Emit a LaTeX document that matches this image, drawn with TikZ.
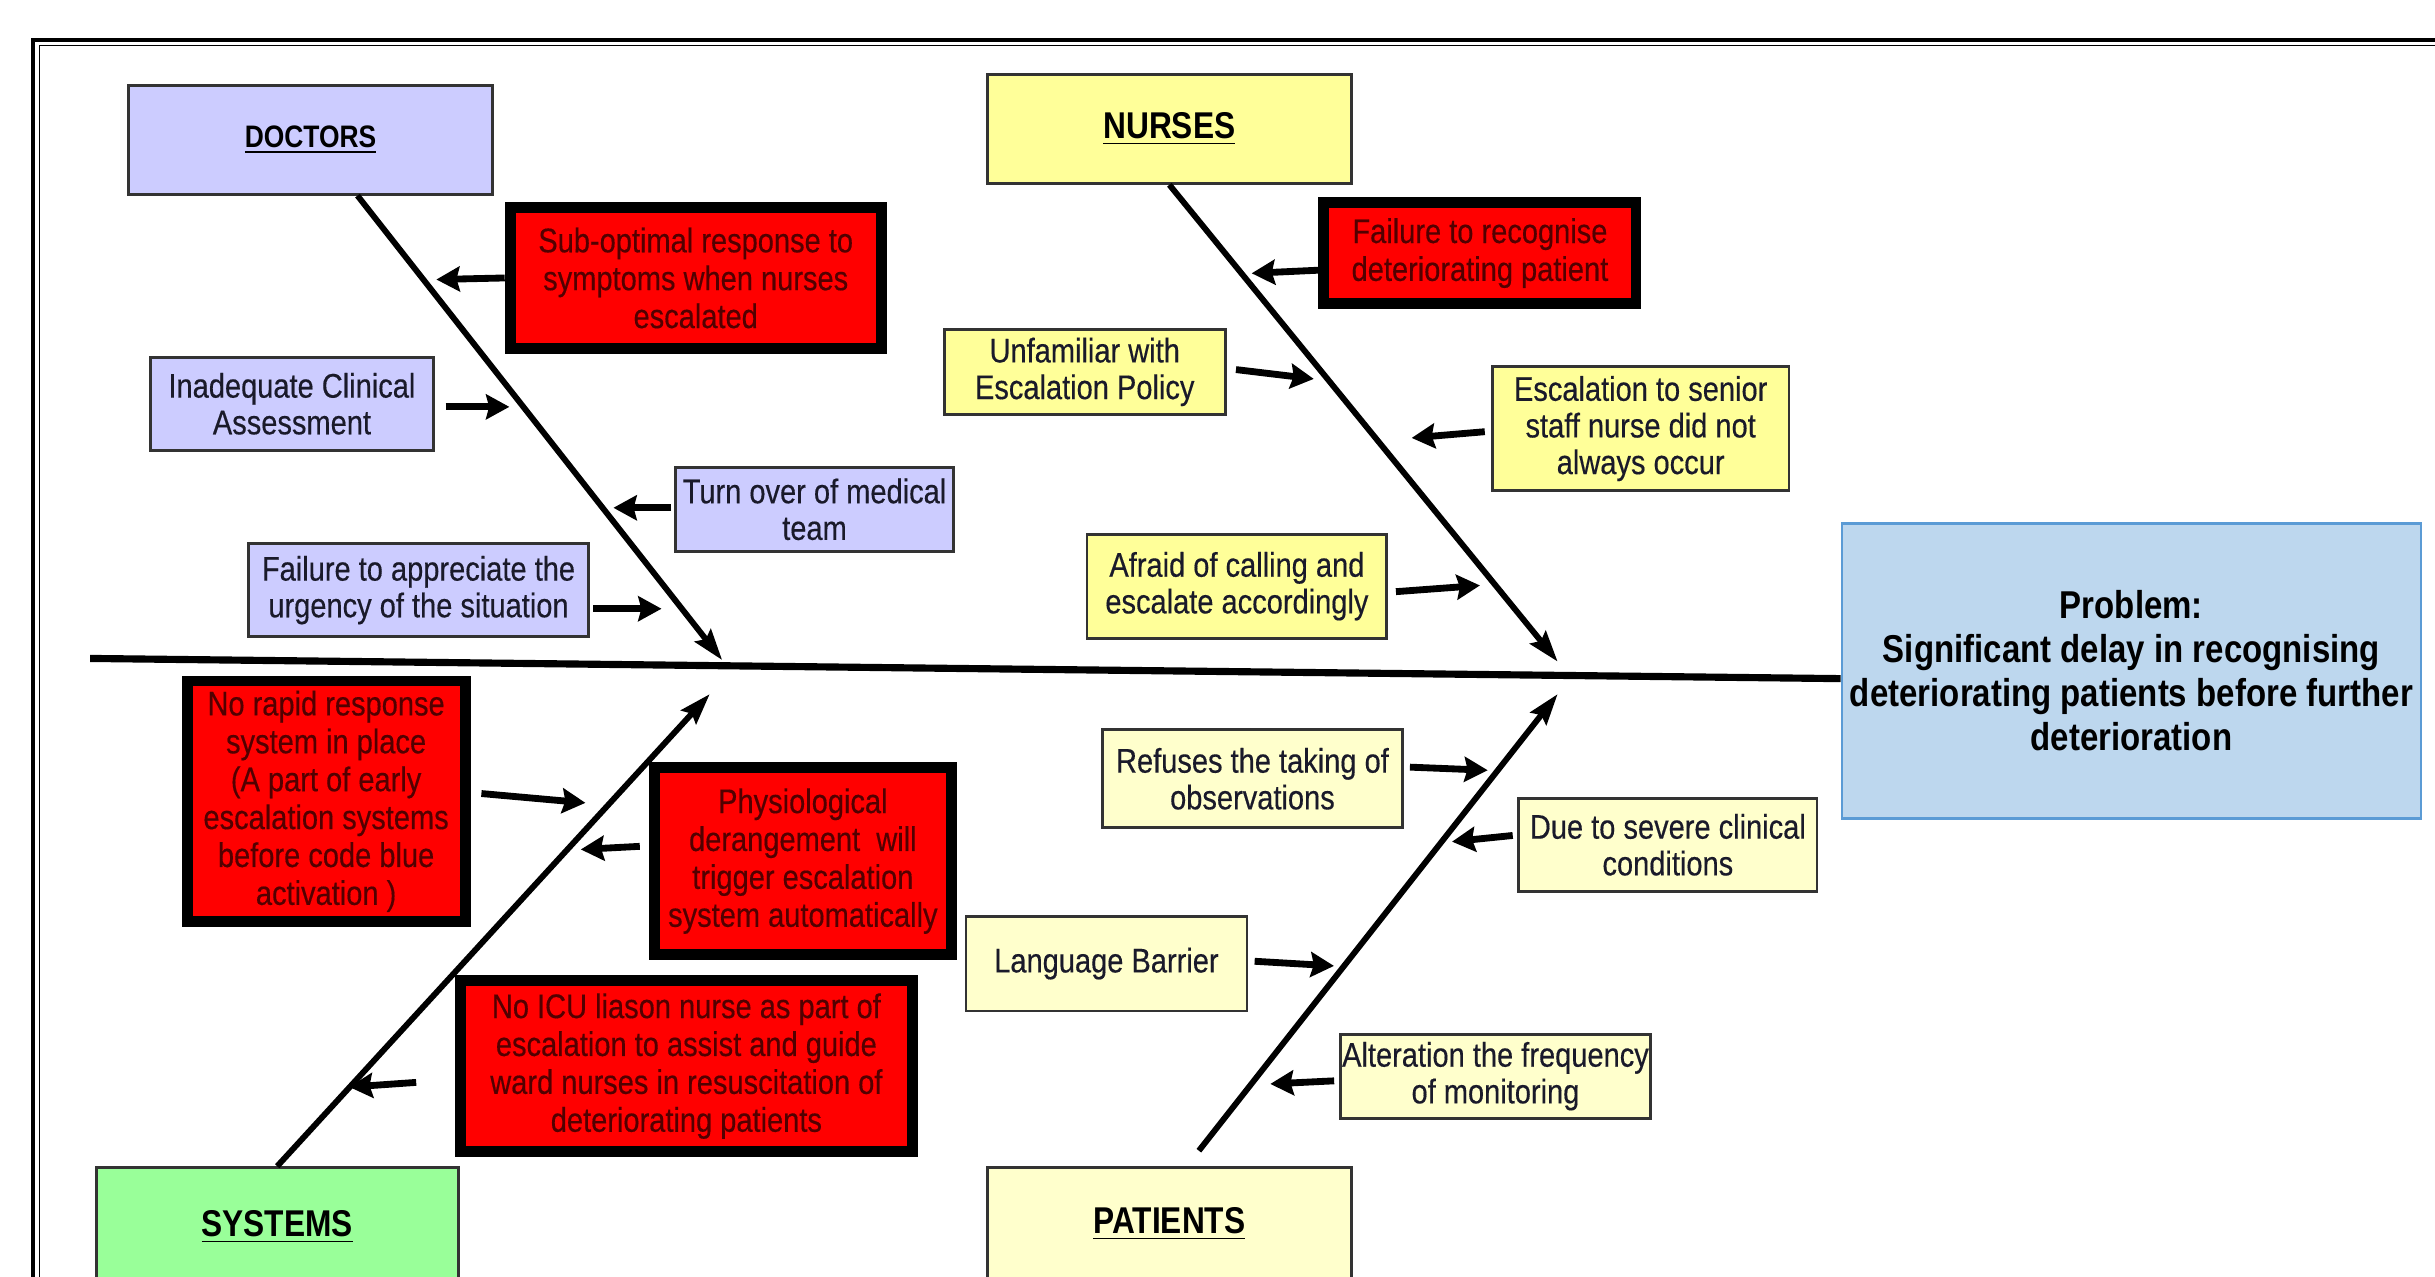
\documentclass[tikz,border=0pt]{standalone}
\usepackage{fontspec}
\setmainfont{Liberation Sans}[FakeStretch=0.85, UprightFeatures={FakeBold=0.35}]
\usetikzlibrary{fit,calc,arrows.meta}
\definecolor{lav}{HTML}{CCCCFF}
\definecolor{yel}{HTML}{FFFF99}
\definecolor{pale}{HTML}{FFFFCC}
\definecolor{grn}{HTML}{99FF99}
\definecolor{sky}{HTML}{BDD7EE}
\definecolor{skyline}{HTML}{5B9BD5}
\definecolor{darkmaroon}{HTML}{520000}
\definecolor{boxline}{HTML}{333333}
\definecolor{txtgray}{HTML}{1A1A2A}
% box drawn by fit, text set in its own node at the box centre
% #1 style, #2 fill, #3 name, #4 #5 corners, #6 text
\newcommand\tbox[6]{%
  \node[#1, fill=#2, fit={#4 #5}] (#3) {};
  \node[#1txt] (#3txt) at (#3.center) {#6};}
\begin{document}
\begin{tikzpicture}[x=0.5pt,y=-0.5pt,
 lbox/.style={draw=boxline, line width=0.9pt, inner sep=0pt},
 lboxtxt/.style={inner sep=0pt, align=center, font=\fontsize{11}{11.8}\selectfont, text=txtgray},
 rbox/.style={draw=black, line width=3.5pt, inner sep=0pt},
 rboxtxt/.style={inner sep=0pt, align=center, font=\fontsize{11}{12.2}\selectfont, text=darkmaroon},
 headbox/.style={draw=boxline, line width=1pt, inner sep=0pt},
 headboxtxt/.style={inner sep=0pt, align=center, font=\bfseries\fontsize{12}{14}\selectfont},
 probbox/.style={draw=skyline, line width=0.8pt, inner sep=0pt},
 probboxtxt/.style={inner sep=0pt, align=center, font=\bfseries\fontsize{12.5}{14.2}\selectfont},
 bone/.style={line width=1.9pt, -{Stealth[length=10pt,width=6.5pt,inset=1.5pt]}},
 cause/.style={line width=2.2pt, -{Stealth[length=7.5pt,width=8pt,inset=1pt]}},
]
\useasboundingbox (0,0) rectangle (1568,822);
\begin{scope}
\clip (0,0) rectangle (1568,822);
% frame
\draw[line width=1.25pt] (21.5,840) -- (21.5,25.5) -- (1580,25.5);
\draw[line width=0.5pt] (25.3,840) -- (25.3,29.3) -- (1580,29.3);

% head boxes
\node[headbox, fill=lav, fit={(83,55)(317,125)}] (doctors) {};
\node[headboxtxt, font=\bfseries\fontsize{10}{12}\selectfont] (doctorstxt) at (doctors.center) {\underline{DOCTORS}};
\tbox{headbox}{yel}{nurses}{(636,48)}{(870,118)}{\underline{NURSES}}
\node[headbox, fill=grn, fit={(62,752)(295,830)}] (systems) {};
\node[headboxtxt] (systemstxt) at (178.5,790) {\underline{SYSTEMS}};
\node[headbox, fill=pale, fit={(636,752)(870,830)}] (patients) {};
\node[headboxtxt] (patientstxt) at (753,788) {\underline{PATIENTS}};
\tbox{probbox}{sky}{problem}{(1186,337)}{(1559,527)}{Problem:\\Significant delay in recognising\\deteriorating patients before further\\deterioration}

% spine and bones
\coordinate (spL) at (58,424);
\draw[line width=2.3pt] (spL) -- ($(problem.west)+(0,5)$);
\coordinate (jD) at (465,425);
\coordinate (jN) at (1003,426);
\coordinate (jS) at (457,447);
\coordinate (jP) at (1003,447);
\draw[bone] ($(doctors.south west)!0.628!(doctors.south east)$) -- (jD);
\draw[bone] (nurses.south) -- (jN);
\draw[bone] (systems.north) -- (jS);
\draw[bone] ($(patients.north)+(19,-10)$) -- (jP);

% doctors causes
\tbox{rbox}{red}{subopt}{(328.5,133.5)}{(567.5,224.5)}{Sub-optimal response to\\symptoms when nurses\\escalated}
\tbox{lbox}{lav}{inad}{(97,230)}{(279,290)}{Inadequate Clinical\\Assessment}
\tbox{lbox}{lav}{turn}{(435,301)}{(614,355)}{Turn over of medical\\team}
\tbox{lbox}{lav}{failapp}{(160,350)}{(379,410)}{Failure to appreciate the\\urgency of the situation}

% nurses causes
\tbox{rbox}{red}{recog}{(852.5,130.5)}{(1053.5,195.5)}{Failure to recognise\\deteriorating patient}
\tbox{lbox}{yel}{unfam}{(608,212)}{(789,267)}{Unfamiliar with\\Escalation Policy}
\tbox{lbox}{yel}{escal}{(961,236)}{(1152,316)}{Escalation to senior\\staff nurse did not\\always occur}
\tbox{lbox}{yel}{afraid}{(700,344)}{(893,411)}{Afraid of calling and\\escalate accordingly}

% systems causes
\tbox{rbox}{red}{norapid}{(120.5,438.5)}{(299.5,593.5)}{No rapid response\\system in place\\(A part of early\\escalation systems\\before code blue\\activation )}
\tbox{rbox}{red}{physio}{(421.5,494.5)}{(612.5,614.5)}{Physiological\\derangement\ \ will\\trigger escalation\\system automatically}
\tbox{rbox}{red}{noicu}{(296.5,631.5)}{(587.5,741.5)}{No ICU liason nurse as part of\\escalation to assist and guide\\ward nurses in resuscitation of\\deteriorating patients}

% patients causes
\tbox{lbox}{pale}{refuses}{(710,470)}{(903,533)}{Refuses the taking of\\observations}
\tbox{lbox}{pale}{severe}{(978,514)}{(1170,574)}{Due to severe clinical\\conditions}
\tbox{lbox}{pale}{lang}{(622,590)}{(803,651)}{Language Barrier}
\tbox{lbox}{pale}{alter}{(863,666)}{(1063,720)}{Alteration the frequency\\of monitoring}

% cause arrows
\coordinate (t1) at (281,180);
\coordinate (t2) at (328,262);
\coordinate (t3) at (395,327);
\coordinate (t4) at (426,392);
\coordinate (t5) at (806,176);
\coordinate (t6) at (846,244);
\coordinate (t7) at (909,282);
\coordinate (t8) at (953,377);
\coordinate (t9) at (377,517);
\coordinate (t10) at (374,547);
\coordinate (t11) at (225,700);
\coordinate (t12) at (958,496);
\coordinate (t13) at (935,542);
\coordinate (t14) at (859,622);
\coordinate (t15) at (818,698);
\draw[cause] (subopt.west) -- (t1);
\draw[cause] ($(inad.east)+(7,2)$) -- (t2);
\draw[cause] ($(turn.west)+(-2,-1)$) -- (t3);
\draw[cause] ($(failapp.east)+(2,12)$) -- (t4);
\draw[cause] ($(recog.west)+(0,11)$) -- (t5);
\draw[cause] ($(unfam.east)+(6,-1.5)$) -- (t6);
\draw[cause] ($(escal.west)+(-4,2)$) -- (t7);
\draw[cause] ($(afraid.east)+(5,3.5)$) -- (t8);
\draw[cause] ($(norapid.east)+(7,-5)$) -- (t9);
\draw[cause] ($(physio.west)+(-6,-9.5)$) -- (t10);
\draw[cause] ($(noicu.west)+(-25,10.5)$) -- (t11);
\draw[cause] ($(refuses.east)+(4,-7.5)$) -- (t12);
\draw[cause] ($(severe.west)+(-3,-6)$) -- (t13);
\draw[cause] ($(lang.east)+(4,-1.5)$) -- (t14);
\draw[cause] ($(alter.west)+(-3,3)$) -- (t15);
\end{scope}
\end{tikzpicture}
\end{document}
